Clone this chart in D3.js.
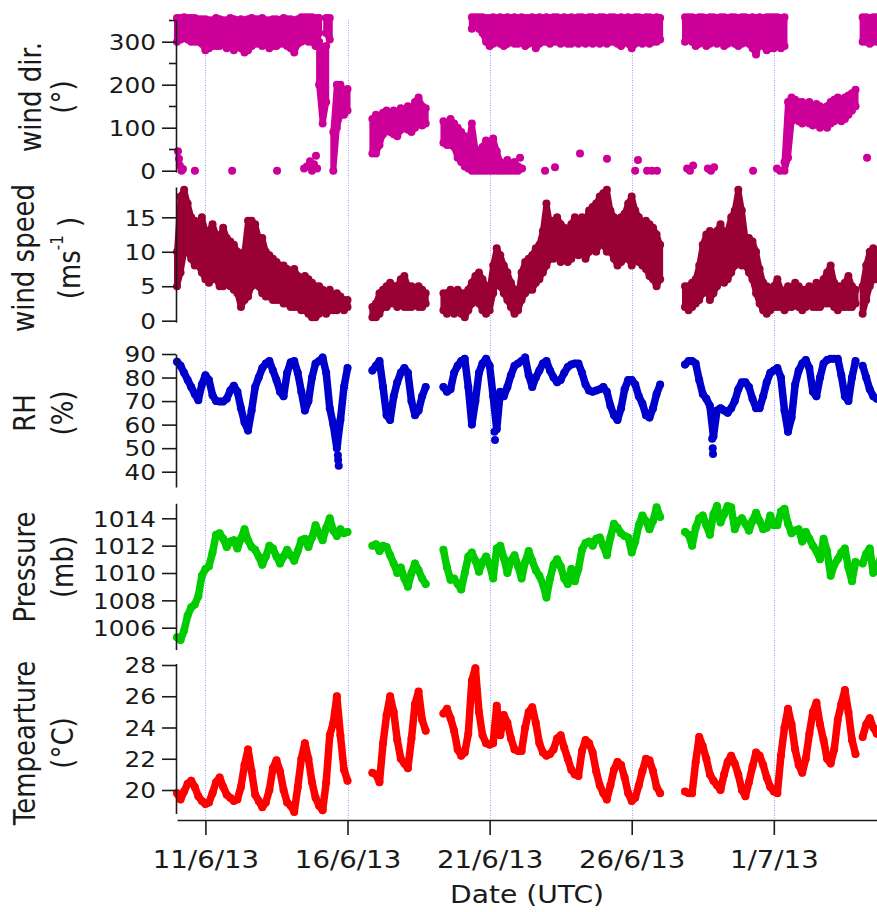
<!DOCTYPE html>
<html>
<head>
<meta charset="utf-8">
<script src="https://cdn.jsdelivr.net/npm/d3@7"></script>
<style>
  body { margin: 0; background: #fff; }
</style>
</head>
<body>
<div id="chart"></div>
<script>
// values in 3-hour bins starting 10/6/13 00:00 UTC, null = no data
const _ = null;
const binHours = 3;
const firstBin = Date.UTC(2013, 5, 10, 0);

const temperature = [
  19.8, 19.4, 19.9, 20.4, 20.6, 20.2, 19.6, 19.3, // 10/6
  19.1, 19.2, 19.8, 20.5, 20.8, 20.2, 19.7, 19.5, // 11/6
  19.3, 19.4, 20.2, 21.6, 22.6, 21.2, 19.7, 19.3, // 12/6
  18.9, 19.2, 20.0, 21.4, 21.9, 21.2, 20.0, 19.2, // 13/6
  19.0, 18.6, 20.2, 22.0, 23.0, 22.0, 20.5, 19.5, // 14/6
  19.0, 18.7, 20.5, 23.5, 24.3, 26.0, 23.5, 21.3, // 15/6
  20.6, _, _, _, _, _, _, 21.1,                   // 16/6
  21.0, 20.5, 23.0, 24.8, 26.0, 25.0, 23.2, 22.0, // 17/6
  21.7, 21.4, 23.3, 25.5, 26.3, 24.5, 23.8, _,    // 18/6
  _, _, _, 24.9, 25.2, 24.6, 23.8, 22.6,          // 19/6
  22.2, 22.4, 23.6, 27.0, 27.8, 25.0, 23.5, 23.0, // 20/6
  22.9, 23.0, 25.4, 23.5, 24.8, 24.3, 23.3, 22.6, // 21/6
  22.5, 22.5, 24.0, 25.0, 25.3, 24.3, 23.0, 22.4, // 22/6
  22.2, 22.3, 22.6, 23.3, 23.5, 22.7, 22.0, 21.3, // 23/6
  21.0, 20.9, 22.5, 23.2, 23.0, 22.4, 21.2, 20.3, // 24/6
  19.8, 19.4, 20.3, 21.3, 21.8, 21.6, 20.8, 19.8, // 25/6
  19.3, 19.5, 20.3, 21.2, 22.0, 21.9, 21.2, 20.2, // 26/6
  19.8, _, _, _, _, _, _, 19.9,                   // 27/6
  19.8, 19.8, 21.8, 23.4, 22.8, 22.0, 21.0, 20.6, // 28/6
  20.3, 20.0, 21.0, 21.8, 22.2, 21.7, 21.0, 20.0, // 29/6
  19.6, 20.5, 21.5, 22.4, 22.2, 21.6, 20.8, 20.2, // 30/6
  19.9, 19.8, 22.2, 24.0, 25.2, 24.2, 22.6, 21.6, // 1/7
  21.1, 22.0, 23.6, 25.0, 25.6, 24.2, 23.2, 22.0, // 2/7
  21.7, 22.6, 24.5, 25.5, 26.4, 25.0, 23.2, 22.3, // 3/7
  _, 23.4, 24.2, 24.6, 24.0, 23.6, 23.8, 23.5     // 4/7
];

const pressure = [
  1005.3, 1005.1, 1005.8, 1006.9, 1007.5, 1007.7, 1008.3, 1009.8,
  1010.3, 1010.5, 1011.5, 1012.8, 1012.9, 1012.5, 1011.9, 1012.3,
  1012.4, 1011.8, 1012.5, 1013.2, 1012.4, 1011.9, 1011.7, 1011.2,
  1010.6, 1011.2, 1012.0, 1011.8, 1011.2, 1010.7, 1011.2, 1011.7,
  1011.3, 1010.9, 1011.6, 1012.4, 1012.5, 1011.9, 1012.6, 1013.5,
  1012.9, 1012.4, 1013.3, 1014.0, 1013.1, 1012.7, 1013.2, 1012.9,
  1013.0, _, _, _, _, _, _, 1012.0,
  1012.1, 1011.6, 1012.0, 1011.9, 1011.3, 1010.7, 1010.0, 1010.4,
  1009.6, 1009.0, 1010.0, 1010.7, 1010.2, 1009.6, 1009.2, _,
  _, _, _, 1011.7, 1010.4, 1009.5, 1009.6, 1009.2,
  1008.8, 1010.0, 1011.2, 1011.5, 1010.9, 1010.1, 1010.8, 1011.2,
  1010.6, 1009.6, 1011.8, 1012.0, 1011.1, 1010.0, 1010.9, 1011.3,
  1010.5, 1009.6, 1010.8, 1011.6, 1010.9, 1010.2, 1009.8, 1009.2,
  1008.2, 1009.6, 1010.6, 1011.0, 1010.5, 1009.6, 1009.2, 1010.3,
  1009.4, 1010.3, 1011.7, 1012.2, 1012.3, 1012.0, 1012.5, 1012.6,
  1012.0, 1011.3, 1012.6, 1013.6, 1013.3, 1012.9, 1012.7, 1012.6,
  1011.5, 1012.3, 1013.5, 1014.2, 1013.8, 1013.2, 1013.8, 1014.8,
  1014.1, _, _, _, _, _, _, 1013.0,
  1012.8, 1012.0, 1013.3, 1014.0, 1014.2, 1013.5, 1012.8, 1014.3,
  1014.9, 1013.7, 1014.3, 1014.9, 1014.8, 1013.2, 1013.8, 1014.0,
  1013.6, 1013.1, 1013.8, 1014.4, 1013.8, 1013.2, 1013.3, 1014.2,
  1013.5, 1013.5, 1014.5, 1014.7, 1013.6, 1012.9, 1013.1, 1013.2,
  1012.3, 1013.0, 1012.5, 1012.0, 1011.6, 1011.0, 1012.5, 1011.6,
  1009.8, 1010.6, 1011.0, 1011.5, 1011.8, 1010.4, 1009.4, 1010.8,
  _, 1010.7, 1011.4, 1011.8, 1010.0, 1010.5, 1011.0, 1011.0
];

const humidity = [
  86.7, 85, 82, 79, 76, 73, 70.4, 77,
  81, 79, 72.5, 70, 69.8, 69.8, 71, 74.5,
  76.5, 74, 67, 61, 57.5, 66, 76, 80,
  84, 86, 87, 83, 79, 74, 72, 82,
  86.5, 87, 82, 74, 66, 70, 80, 86,
  87, 88.5, 82, 67, 60, 50, 62, 76,
  84, _, _, _, _, _, _, 83,
  85, 87, 76, 64, 62, 72, 78, 82,
  84, 82, 70, 64, 66, 72, 76, _,
  _, _, _, 76, 74, 75, 82, 85,
  87, 88, 76, 60, 70, 82, 86, 88,
  85, 72, 58, 74, 72, 76, 81, 85,
  86, 87, 88.5, 81, 76, 80, 83, 86,
  87, 83, 80, 78, 79, 82, 84.5, 85.5,
  86, 86, 82, 77, 74.5, 74, 74.5, 75,
  76, 74, 68, 64, 62, 67, 75, 79,
  79, 77, 72, 69, 64, 63, 67, 73,
  77, _, _, _, _, _, _, 85.5,
  87, 87, 86, 79, 73, 71, 68, 55,
  66, 67, 66, 65, 67, 70, 75, 78,
  78, 76, 71, 67, 67, 72, 78, 82,
  83, 84, 80, 66, 57, 63, 77, 83,
  86, 87.5, 84, 74, 72, 80, 86, 87.5,
  88, 88, 88, 81, 72, 70, 80, 87,
  _, 85, 80, 75, 72, 71, 71, 71
];
// single low readings of RH: [days after 10/6 00:00, %]
const humidityLows = [[5.64, 52], [5.66, 47], [5.67, 45], [5.69, 42.5], [11.17, 57], [11.19, 53.5], [18.83, 54], [18.85, 50], [18.86, 47.5]];

// wind speed spread (lowest, highest) in each 3-hour bin
const speedLow = [
  5, 7, 10, 10, 9, 8, 8, 7,
  6, 5.5, 6, 6, 5, 5, 5.5, 5,
  4.5, 4, 2, 3, 3.5, 5, 6, 5,
  4, 3.5, 3.5, 3, 3, 3, 2.5, 2.5,
  2, 2, 2, 1.5, 1.5, 1, 0.5, 0.5,
  1, 1.5, 1, 1.5, 1.5, 1.5, 2, 1.5,
  2, _, _, _, _, _, _, 0.5,
  0.5, 1, 2, 2, 2.5, 2.5, 2, 2.5,
  2, 2, 2, 2.5, 2, 2, 2.5, _,
  _, _, _, 1.5, 1, 1.5, 1, 1.5,
  1, 0.5, 1.5, 2.5, 3, 2.5, 1.5, 1,
  1.5, 4, 6, 5, 4, 3, 2, 1,
  1.5, 3, 4, 4.5, 4.5, 5.5, 6, 7,
  8, 9, 9, 9.5, 8.5, 9, 8.5, 9,
  10, 9.5, 10, 9, 10, 10.5, 10, 11,
  11, 10, 10, 9, 8, 8.5, 9, 9,
  8, 9, 8.5, 8, 7.5, 6.5, 6, 5,
  6, _, _, _, _, _, _, 2,
  1.5, 2, 2.5, 3, 4, 5, 3, 4,
  5, 6, 5.5, 6, 7, 8, 9, 8,
  8, 7, 6, 4, 2.5, 1.5, 1, 1.5,
  2, 2, 2, 1.5, 2, 2, 2.5, 2,
  1.5, 2, 2.5, 2, 2, 2, 2.5, 2.5,
  2.5, 2, 1.5, 2, 2, 2, 2, 2.5,
  _, 1, 3, 5, 6, 6, 6, 6
];
const speedHigh = [
  10, 18, 19, 17, 15, 14.5, 14, 15,
  13, 13, 14, 12.5, 12, 13.5, 12, 11.5,
  11, 10, 9, 10, 14.5, 14.5, 14, 12,
  12, 10, 9.5, 9, 8.5, 8, 8, 7.5,
  7, 7.5, 6.5, 6, 6.5, 6, 5.5, 5,
  5, 4.5, 4, 4.5, 3.5, 4, 3.5, 3,
  3, _, _, _, _, _, _, 2,
  2.5, 4, 4.5, 5, 5.5, 5, 5, 6,
  6.5, 5, 5, 4.5, 5, 4.5, 4, _,
  _, _, _, 4, 4, 4.5, 4, 4.5,
  4, 4, 4.5, 5.5, 6.5, 7, 6, 5,
  4.5, 8, 10.5, 9.5, 8, 7, 5.5, 4.5,
  3.5, 7, 8.5, 9, 9.5, 10.5, 11, 13,
  17, 14, 14.5, 15, 14, 13.5, 13, 14,
  15, 14.5, 15, 14.5, 16, 16.5, 17, 18,
  18.5, 19, 16, 15, 14, 15, 15.5, 17,
  18, 16, 15, 14, 14.5, 14, 13.5, 12.5,
  11, _, _, _, _, _, _, 5,
  5, 5.5, 6, 8, 11, 12.5, 13, 12,
  13, 14, 12.5, 13, 15, 16, 19, 16,
  12, 12, 11.5, 10, 7.5, 5.5, 5, 4.5,
  5, 6, 4.5, 4, 5, 4.5, 5.5, 5,
  4.5, 4.5, 5, 4.5, 5.5, 5, 6, 7,
  8, 5.5, 5, 5, 5.5, 6.5, 5, 4.5,
  _, 5, 8, 10, 10.5, 10, 10, 10
];

// wind direction: northerly cluster near the top of the scale
const dirTopLow = [
  300, 305, 310, 305, 300, 300, 300, 295,
  280, 285, 290, 290, 290, 295, 285, 290,
  280, 290, 285, 275, 280, 290, 295, 295,
  290, 295, 285, 290, 290, 295, 295, 290,
  285, 275, 295, 300, 305, 300, 300, 290,
  320, _, 320, 305, _, _, _, _,
  _, _, _, _, _, _, _, _,
  _, _, _, _, _, _, _, _,
  _, _, _, _, _, _, _, _,
  _, _, _, _, _, _, _, _,
  _, _, _, 330, 335, 330, 320, 300,
  290, 295, 300, 295, 290, 295, 300, 295,
  295, 300, 290, 295, 300, 285, 295, 300,
  300, 295, 300, 300, 295, 300, 295, 295,
  300, 295, 300, 295, 300, 295, 300, 295,
  300, 295, 300, 300, 295, 290, 300, 295,
  285, 295, 300, 295, 300, 295, 300, 300,
  305, _, _, _, _, _, _, 300,
  310, 300, 290, 295, 300, 290, 295, 300,
  295, 300, 290, 295, 300, 295, 290, 295,
  300, 295, 285, 270, 295, 290, 280, 285,
  285, 290, 285, 290, _, _, _, _,
  _, _, _, _, _, _, _, _,
  _, _, _, _, _, _, _, _,
  _, 300, 300, 295, 300, 300, 300, 300
];
const dirTopHigh = [
  355, 355, 357, 355, 355, 355, 352, 352,
  352, 350, 350, 355, 352, 350, 350, 355,
  352, 350, 352, 350, 352, 355, 352, 352,
  355, 350, 350, 352, 352, 350, 355, 352,
  352, 350, 352, 357, 357, 357, 357, 355,
  355, _, 355, 355, _, _, _, _,
  _, _, _, _, _, _, _, _,
  _, _, _, _, _, _, _, _,
  _, _, _, _, _, _, _, _,
  _, _, _, _, _, _, _, _,
  _, _, _, 357, 357, 357, 357, 355,
  355, 357, 355, 357, 355, 357, 355, 357,
  355, 357, 355, 355, 357, 355, 357, 355,
  357, 355, 357, 357, 355, 357, 355, 357,
  355, 357, 357, 355, 357, 357, 355, 357,
  357, 355, 357, 357, 355, 357, 355, 357,
  355, 357, 357, 355, 357, 357, 355, 357,
  355, _, _, _, _, _, _, 357,
  357, 357, 355, 357, 357, 355, 357, 357,
  355, 357, 357, 355, 357, 357, 355, 357,
  357, 355, 357, 355, 357, 355, 357, 357,
  357, 357, 355, 357, _, _, _, _,
  _, _, _, _, _, _, _, _,
  _, _, _, _, _, _, _, _,
  _, 357, 357, 355, 357, 357, 357, 357
];
// wind direction: the lower cluster (southerly / easterly spells)
const dirLowLow = [
  _, _, _, _, _, _, _, _,
  _, _, _, _, _, _, _, _,
  _, _, _, _, _, _, _, _,
  _, _, _, _, _, _, _, _,
  _, _, _, _, _, _, _, _,
  200, 110, 160, _, 0, 100, 130, 130,
  140, _, _, _, _, _, _, 40,
  40, 60, 85, 95, 90, 85, 80, 95,
  100, 95, 90, 100, 110, 105, 110, _,
  _, _, _, 65, 60, 60, 55, 30,
  20, 10, 5, 0, 0, 0, 0, 0,
  0, 0, 0, 0, 0, 0, 0, 0,
  0, _, _, _, _, _, _, _,
  _, _, _, _, _, _, _, _,
  _, _, _, _, _, _, _, _,
  _, _, _, _, _, _, _, _,
  _, _, _, _, _, _, _, _,
  _, _, _, _, _, _, _, _,
  _, _, _, _, _, _, _, _,
  _, _, _, _, _, _, _, _,
  _, _, _, _, _, _, _, _,
  _, _, _, 0, 30, 115, 120, 115,
  110, 115, 110, 105, 110, 100, 105, 100,
  110, 115, 120, 115, 120, 130, 140, 150,
  _, _, _, _, _, _, _, _
];
const dirLowHigh = [
  _, _, _, _, _, _, _, _,
  _, _, _, _, _, _, _, _,
  _, _, _, _, _, _, _, _,
  _, _, _, _, _, _, _, _,
  _, _, _, _, _, _, _, _,
  300, 270, 290, _, 90, 200, 200, 185,
  190, _, _, _, _, _, _, 120,
  130, 120, 135, 140, 135, 140, 130, 145,
  140, 150, 140, 160, 170, 150, 145, _,
  _, _, _, 115, 110, 120, 110, 100,
  90, 80, 60, 110, 50, 40, 55, 70,
  60, 75, 45, 20, 15, 25, 10, 20,
  10, _, _, _, _, _, _, _,
  _, _, _, _, _, _, _, _,
  _, _, _, _, _, _, _, _,
  _, _, _, _, _, _, _, _,
  _, _, _, _, _, _, _, _,
  _, _, _, _, _, _, _, _,
  _, _, _, _, _, _, _, _,
  _, _, _, _, _, _, _, _,
  _, _, _, _, _, _, _, _,
  _, _, _, 20, 160, 170, 165, 160,
  160, 155, 160, 150, 155, 150, 145, 150,
  160, 165, 170, 165, 170, 175, 180, 188,
  _, _, _, _, _, _, _, _
];
// isolated wind direction readings: [days after 10/6 00:00, degrees]
const dirSingles = [
  [0.035, 45], [0.07, 28], [0.1, 12], [0.16, 0], [0.21, 4], [0.63, 0], [1.94, 0], [3.52, 0],
  [4.47, 5], [4.57, 10], [4.68, 22], [4.75, 0], [4.82, 15], [4.89, 35], [4.93, 5],
  [12.07, 30], [12.14, 5], [12.95, 0], [13.3, 8], [14.18, 40], [15.13, 28],
  [16.12, 0], [16.22, 25], [16.54, 0], [16.71, 0], [16.89, 0],
  [17.95, 5], [18.05, 0], [18.16, 12], [18.68, 5], [18.79, 0], [18.9, 8],
  [20.27, 0], [21.11, 5], [21.22, 0], [24.28, 30]
];

const dirTicks = [0, 100, 200, 300];
const dirMinorTicks = [50, 150, 250, 350];
const speedTicks = [0, 5, 10, 15];
const humidityTicks = [40, 50, 60, 70, 80, 90];
const pressureTicks = [1006, 1008, 1010, 1012, 1014];
const temperatureTicks = [20, 22, 24, 26, 28];
const dateTicks = ["2013-06-11", "2013-06-16", "2013-06-21", "2013-06-26", "2013-07-01"];

// ---------------------------------------------------------------------------
const width = 877,
  height = 912;
const font = "'DejaVu Sans', Verdana, sans-serif";
const stretch = 1.15; // the lettering in the figure is drawn wide
const axisX = 176;
const ink = "#1a1a1a";
const dotR = 4;

const svg = d3
  .select("#chart")
  .append("svg")
  .attr("width", width)
  .attr("height", height)
  .style("display", "block");

const binTime = (i) => new Date(firstBin + i * binHours * 3600e3);
const dayTime = (d) => new Date(firstBin + d * 86400e3);

const x = d3
  .scaleUtc()
  .domain([dayTime(0), dayTime(25)])
  .range([177, 887.5]);

const panels = [
  {
    title: ["wind dir.", "(°)"],
    y: d3.scaleLinear().domain([0, 300]).range([170.7, 41.7]),
    extent: [-3, 350.5],
    ticks: dirTicks,
    minor: dirMinorTicks,
    color: "#cc0099",
    titleX: [41, 73],
    titleY: 97,
  },
  {
    title: ["wind speed", "(ms"],
    y: d3.scaleLinear().domain([0, 15]).range([320.7, 217.3]),
    extent: [-0.2, 19.4],
    ticks: speedTicks,
    color: "#990033",
    titleX: [34, 80],
    titleY: 258,
  },
  {
    title: ["RH", "(%)"],
    y: d3.scaleLinear().domain([40, 90]).range([471.7, 354]),
    extent: [33.5, 90],
    ticks: humidityTicks,
    color: "#0000cc",
    titleX: [35, 73],
    titleY: 413,
  },
  {
    title: ["Pressure", "(mb)"],
    y: d3.scaleLinear().domain([1006, 1014]).range([627.7, 518.3]),
    extent: [1004.4, 1015.1],
    ticks: pressureTicks,
    color: "#00cc00",
    titleX: [35, 73],
    titleY: 567,
  },
  {
    title: ["Tempearture", "(°C)"],
    y: d3.scaleLinear().domain([20, 28]).range([790, 665]),
    extent: [18.5, 28.1],
    ticks: temperatureTicks,
    color: "#ff0000",
    titleX: [35, 73],
    titleY: 743,
  },
];
const [dirPanel, speedPanel, rhPanel, pressurePanel, tempPanel] = panels;

// dotted date guides behind the data
svg
  .append("g")
  .selectAll("line")
  .data(dateTicks.map((d) => new Date(d + "T00:00Z")))
  .join("line")
  .attr("x1", (d) => Math.round(x(d)) + 0.5)
  .attr("x2", (d) => Math.round(x(d)) + 0.5)
  .attr("y1", 20)
  .attr("y2", 820)
  .attr("stroke", "#9a9cff")
  .attr("stroke-width", 1)
  .attr("stroke-dasharray", "1,1.5");

const dataLayer = svg.append("g");

// dense records drawn as a run of dots
function drawTrace(values, panel, singles) {
  const pts = values.map((v, i) => ({ t: binTime(i), v }));
  const g = dataLayer.append("g").attr("fill", panel.color);
  g.append("path")
    .datum(pts)
    .attr(
      "d",
      d3
        .line()
        .defined((d) => d.v !== null)
        .x((d) => x(d.t))
        .y((d) => panel.y(d.v))
    )
    .attr("fill", "none")
    .attr("stroke", panel.color)
    .attr("stroke-width", 7.5)
    .attr("stroke-linejoin", "round")
    .attr("stroke-linecap", "round");
  g.selectAll("circle")
    .data(pts.filter((d) => d.v !== null))
    .join("circle")
    .attr("cx", (d) => x(d.t))
    .attr("cy", (d) => panel.y(d.v))
    .attr("r", dotR);
  if (singles) drawSingles(singles, panel);
}

// noisy records: each bin covers its lowest to highest reading
function drawSpread(low, high, panel) {
  const rows = low.map((lo, i) => ({ t: binTime(i), lo, hi: high[i] }));
  const kept = rows.filter((d) => d.lo !== null);
  const g = dataLayer.append("g").attr("fill", panel.color);
  g.append("path")
    .datum(rows)
    .attr(
      "d",
      d3
        .area()
        .defined((d) => d.lo !== null)
        .x((d) => x(d.t))
        .y0((d) => panel.y(d.lo))
        .y1((d) => panel.y(d.hi))
    )
    .attr("stroke", panel.color)
    .attr("stroke-width", 6)
    .attr("stroke-linejoin", "round")
    .attr("stroke-linecap", "round");
  g.selectAll("circle")
    .data(kept.flatMap((d) => [[d.t, d.lo], [d.t, d.hi]]))
    .join("circle")
    .attr("cx", (d) => x(d[0]))
    .attr("cy", (d) => panel.y(d[1]))
    .attr("r", dotR);
}

function drawSingles(list, panel) {
  dataLayer
    .append("g")
    .selectAll("circle")
    .data(list)
    .join("circle")
    .attr("cx", (d) => x(dayTime(d[0])))
    .attr("cy", (d) => panel.y(d[1]))
    .attr("r", dotR)
    .attr("fill", panel.color);
}

drawSpread(dirTopLow, dirTopHigh, dirPanel);
drawSpread(dirLowLow, dirLowHigh, dirPanel);
drawSingles(dirSingles, dirPanel);
drawSpread(speedLow, speedHigh, speedPanel);
drawTrace(humidity, rhPanel, humidityLows);
drawTrace(pressure, pressurePanel);
drawTrace(temperature, tempPanel);

// left axes
const axisLayer = svg.append("g");
panels.forEach((p) => {
  const axisScale = d3
    .scaleLinear()
    .domain(p.extent)
    .range(p.extent.map(p.y));
  const ax = axisLayer
    .append("g")
    .attr("transform", `translate(${axisX},0)`)
    .call(
      d3
        .axisLeft(axisScale)
        .tickValues(p.ticks)
        .tickSize(14)
        .tickSizeOuter(0)
        .tickFormat(d3.format("d"))
    );
  ax.attr("font-family", font).attr("font-size", 21.5);
  ax.selectAll("path, line").attr("stroke", ink).attr("stroke-width", 1.6);
  ax.selectAll(".tick text")
    .attr("x", null)
    .attr("dy", "0.36em")
    .attr("fill", ink)
    .attr("transform", `translate(-20,0) scale(${stretch},1)`);

  if (p.minor) {
    ax.selectAll("line.minor")
      .data(p.minor)
      .join("line")
      .attr("class", "minor")
      .attr("x1", -7)
      .attr("x2", 0)
      .attr("y1", (d) => Math.round(axisScale(d)) + 0.5)
      .attr("y2", (d) => Math.round(axisScale(d)) + 0.5)
      .attr("stroke", ink)
      .attr("stroke-width", 1.6);
  }

  // two-line rotated axis title
  p.title.forEach((line, k) => {
    const t = axisLayer
      .append("text")
      .attr(
        "transform",
        `translate(${p.titleX[k]},${p.titleY}) scale(${stretch},1) rotate(-90)`
      )
      .attr("text-anchor", "middle")
      .attr("font-family", font)
      .attr("font-size", 26)
      .attr("fill", ink)
      .text(line);
    if (p === speedPanel && k === 1) {
      t.append("tspan").attr("dy", -15).attr("font-size", 15).text("-1");
      t.append("tspan").attr("dy", 15).text(" )");
    }
  });
});

// date axis
const dates = dateTicks.map((d) => new Date(d + "T00:00Z"));
const xAxis = svg
  .append("g")
  .attr("transform", "translate(0,820)")
  .call(
    d3
      .axisBottom(x)
      .tickValues(dates)
      .tickSize(15)
      .tickSizeOuter(0)
      .tickFormat(d3.utcFormat("%-d/%-m/%y"))
  );
xAxis.attr("font-family", font).attr("font-size", 24);
xAxis.selectAll("path, line").attr("stroke", ink).attr("stroke-width", 1.6);
xAxis
  .selectAll(".tick text")
  .attr("y", null)
  .attr("dy", null)
  .attr("fill", ink)
  .attr("transform", `translate(0,48) scale(${stretch},1)`);

svg
  .append("text")
  .attr("transform", `translate(527,903) scale(${stretch},1)`)
  .attr("text-anchor", "middle")
  .attr("font-family", font)
  .attr("font-size", 24.5)
  .attr("fill", ink)
  .text("Date (UTC)");
</script>
</body>
</html>
